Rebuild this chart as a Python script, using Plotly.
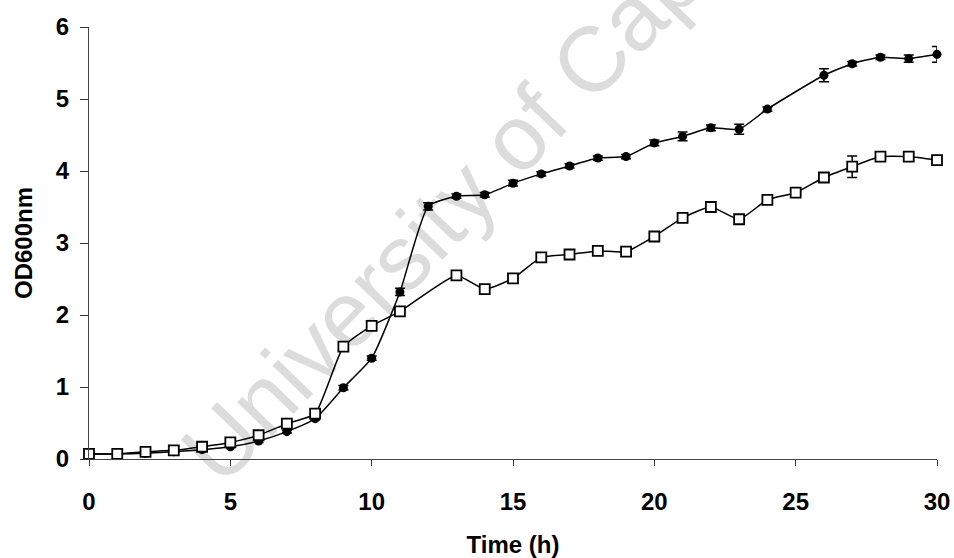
import plotly.graph_objects as go

time_h = list(range(0, 31))
od_filled = [0.07, 0.07, 0.08, 0.10, 0.13, 0.17, 0.25, 0.38, 0.56, 0.99, 1.40,
             2.32, 3.51, 3.65, 3.67, 3.83, 3.96, 4.07, 4.18, 4.20, 4.39, 4.48,
             4.60, 4.58, 4.86, None, 5.33, 5.49, 5.58, 5.56, 5.62]
err_filled = [0.01, 0.01, 0.01, 0.01, 0.01, 0.01, 0.02, 0.02, 0.02, 0.03, 0.03,
              0.05, 0.05, 0.03, 0.03, 0.04, 0.03, 0.03, 0.03, 0.03, 0.04, 0.06,
              0.04, 0.07, 0.03, None, 0.09, 0.03, 0.03, 0.05, 0.11]
od_open = [0.07, 0.07, 0.10, 0.12, 0.17, 0.23, 0.33, 0.49, 0.63, 1.56, 1.85,
           2.05, None, 2.55, 2.36, 2.51, 2.80, 2.84, 2.89, 2.88, 3.09, 3.35,
           3.50, 3.33, 3.60, 3.70, 3.91, 4.06, 4.20, 4.20, 4.15]
err_open = [0.01, 0.01, 0.01, 0.01, 0.01, 0.01, 0.02, 0.02, 0.02, 0.03, 0.03,
            0.04, None, 0.05, 0.03, 0.03, 0.06, 0.03, 0.03, 0.03, 0.03, 0.03,
            0.04, 0.03, 0.03, 0.03, 0.03, 0.15, 0.03, 0.03, 0.03]

x_ticks = [0, 5, 10, 15, 20, 25, 30]
y_ticks = [0, 1, 2, 3, 4, 5, 6]
watermark = "University of Cape Town"

FONT = "Liberation Sans, Arial, sans-serif"

fig = go.Figure()
fig.add_trace(go.Scatter(
    x=time_h, y=od_filled, mode="lines+markers", connectgaps=True,
    line=dict(color="black", width=1.5, shape="spline", smoothing=0.5),
    marker=dict(symbol="circle", size=9, color="black"),
    error_y=dict(type="data", array=err_filled, color="black", thickness=1.5, width=5),
    cliponaxis=False, showlegend=False))
fig.add_trace(go.Scatter(
    x=time_h, y=od_open, mode="lines+markers", connectgaps=True,
    line=dict(color="black", width=1.5, shape="spline", smoothing=0.5),
    marker=dict(symbol="square", size=10, color="white", line=dict(color="black", width=1.8)),
    error_y=dict(type="data", array=err_open, color="black", thickness=1.5, width=5),
    cliponaxis=False, showlegend=False))

# watermark drawn below the data
cx = (536 - 89) / 848
cy = (459 - 104) / 432
fig.add_shape(type="rect", xref="paper", yref="paper",
              x0=cx - 0.01, x1=cx + 0.01, y0=cy - 0.01, y1=cy + 0.01,
              line=dict(width=0), fillcolor="rgba(0,0,0,0)", layer="below",
              label=dict(text=watermark, textangle=-46, textposition="middle center",
                         font=dict(family=FONT, size=92, color="#dcdcdc")))

fig.update_layout(
    width=954, height=558,
    margin=dict(l=89, r=17, t=27, b=99),
    paper_bgcolor="white", plot_bgcolor="rgba(0,0,0,0)",
    font=dict(family=FONT, size=24, color="black"),
    xaxis=dict(range=[0, 30], tickvals=x_ticks, ticks="outside", ticklen=6,
               tickwidth=1, tickcolor="#333", showline=True, linecolor="#444",
               linewidth=1.2, showgrid=False, zeroline=False, automargin=False,
               tickfont=dict(family=FONT, size=24, color="black", weight="bold"),
               ticklabelstandoff=15,
               title=dict(text="<b>Time (h)</b>", standoff=22,
                          font=dict(family=FONT, size=24, color="black"))),
    yaxis=dict(range=[0, 6], tickvals=y_ticks, ticks="outside", ticklen=8,
               tickwidth=1, tickcolor="#333", showline=True, linecolor="#444",
               linewidth=1.2, showgrid=False, zeroline=False, automargin=False,
               tickfont=dict(family=FONT, size=24, color="black", weight="bold"),
               ticklabelstandoff=6,
               title=dict(text="<b>OD600nm</b>", standoff=16,
                          font=dict(family=FONT, size=24, color="black"))),
)

fig.write_html("out.html")
